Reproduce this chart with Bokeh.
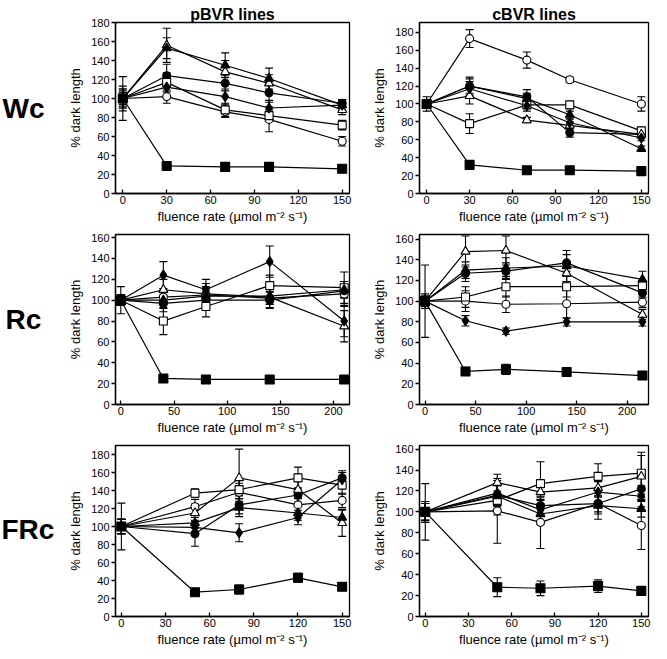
from bokeh.plotting import figure
from bokeh.models import Whisker, TeeHead, ColumnDataSource, FixedTicker, Range1d
from bokeh.layouts import column, row
from bokeh.core.properties import value
from bokeh.embed import file_html
from bokeh.resources import INLINE

# ---------------- data ----------------
col_titles = ["pBVR lines", "cBVR lines"]
row_titles = ["Wc", "Rc", "FRc"]
y_label = "% dark length"
x_label = "fluence rate (\u00b5mol m\u207b\u00b2 s\u207b\u00b9)"

ticks_150 = [0, 30, 60, 90, 120, 150]
ticks_200 = [0, 50, 100, 150, 200]
ticks_y180 = [0, 20, 40, 60, 80, 100, 120, 140, 160, 180]
ticks_y160 = [0, 20, 40, 60, 80, 100, 120, 140, 160]

# Wc, pBVR lines
wcp_x = [0, 30, 70, 100, 150]
wcp_ocirc = [100, 102, 86, 78, 55]
wcp_ocirc_err = [23, 7, 6, 13, 5]
wcp_fcirc = [100, 124, 116, 106, 95]
wcp_fcirc_err = [13, 12, 8, 10, 4]
wcp_osq = [100, 117, 88, 82, 72]
wcp_osq_err = [10, 10, 7, 6, 5]
wcp_fsq = [100, 29, 28, 28, 26]
wcp_fsq_err = [6, 3, 3, 2, 3]
wcp_otri = [100, 156, 128, 116, 88]
wcp_otri_err = [8, 18, 12, 9, 5]
wcp_ftri = [100, 153, 135, 121, 93]
wcp_ftri_err = [6, 11, 13, 11, 6]
wcp_fdia = [100, 112, 102, 90, 93]
wcp_fdia_err = [10, 10, 8, 8, 5]

# Wc, cBVR lines
wcc_x = [0, 30, 70, 100, 150]
wcc_ocirc = [100, 173, 149, 127, 100]
wcc_ocirc_err = [3, 10, 9, 3, 8]
wcc_fcirc = [100, 120, 108, 68, 66]
wcc_fcirc_err = [5, 10, 8, 5, 4]
wcc_osq = [100, 78, 99, 99, 70]
wcc_osq_err = [3, 11, 4, 4, 4]
wcc_fsq = [100, 32, 26, 26, 25]
wcc_fsq_err = [8, 4, 2, 2, 2]
wcc_otri = [100, 109, 82, 76, 66]
wcc_otri_err = [3, 9, 3, 4, 4]
wcc_ftri = [100, 120, 106, 88, 50]
wcc_ftri_err = [3, 8, 6, 4, 3]
wcc_fdia = [100, 117, 98, 79, 62]
wcc_fdia_err = [3, 8, 6, 4, 3]

# Rc, pBVR lines
rcp_x = [0, 40, 80, 140, 210]
rcp_ocirc = [100, 103, 105, 102, 106]
rcp_ocirc_err = [5, 8, 8, 6, 12]
rcp_fcirc = [100, 97, 100, 100, 109]
rcp_fcirc_err = [5, 8, 8, 8, 6]
rcp_osq = [100, 80, 94, 114, 112]
rcp_osq_err = [5, 13, 10, 10, 15]
rcp_fsq = [100, 25, 24, 24, 24]
rcp_fsq_err = [13, 2, 2, 2, 2]
rcp_otri = [100, 110, 106, 103, 75]
rcp_otri_err = [5, 10, 10, 10, 15]
rcp_ftri = [100, 100, 104, 104, 110]
rcp_ftri_err = [5, 8, 8, 8, 8]
rcp_fdia = [100, 124, 110, 137, 80]
rcp_fdia_err = [5, 13, 10, 15, 15]

# Rc, cBVR lines
rcc_x = [0, 40, 80, 140, 215]
rcc_ocirc = [100, 100, 97, 97.5, 99]
rcc_ocirc_err = [35, 10, 8, 14, 5]
rcc_fcirc = [100, 127, 129, 137, 108]
rcc_fcirc_err = [5, 8, 8, 8, 5]
rcc_osq = [100, 104, 114, 114, 115]
rcc_osq_err = [5, 10, 10, 10, 5]
rcc_fsq = [100, 32, 34, 31.5, 28]
rcc_fsq_err = [7, 4, 5, 3, 3]
rcc_otri = [100, 148, 149, 127, 87]
rcc_otri_err = [3, 15, 14, 8, 5]
rcc_ftri = [100, 130, 132, 134, 121]
rcc_ftri_err = [3, 8, 10, 15, 8]
rcc_fdia = [100, 81, 71, 80, 80]
rcc_fdia_err = [3, 5, 3, 4, 4]

# FRc, pBVR lines
frp_x = [0, 50, 80, 120, 150]
frp_ocirc = [100, 122, 138, 124, 129]
frp_ocirc_err = [26, 8, 10, 10, 8]
frp_fcirc = [100, 92, 124, 135, 154]
frp_fcirc_err = [8, 14, 10, 8, 8]
frp_osq = [100, 137, 141, 154, 146]
frp_osq_err = [8, 5, 10, 12, 10]
frp_fsq = [100, 27, 30, 43, 33]
frp_fsq_err = [8, 4, 5, 5, 4]
frp_otri = [100, 115, 154, 141, 104]
frp_otri_err = [8, 10, 32, 10, 15]
frp_ftri = [100, 104, 121, 115, 110]
frp_ftri_err = [8, 6, 10, 8, 8]
frp_fdia = [100, 99, 93, 110, 152]
frp_fdia_err = [8, 8, 10, 8, 8]

# FRc, cBVR lines
frc_x = [0, 50, 80, 120, 150]
frc_ocirc = [100, 101, 90, 108, 87]
frc_ocirc_err = [27, 31, 25, 15, 23]
frc_fcirc = [100, 116, 106, 108, 122]
frc_fcirc_err = [8, 10, 8, 8, 10]
frc_osq = [100, 111, 127, 134, 137]
frc_osq_err = [10, 14, 21, 12, 20]
frc_fsq = [100, 28, 27, 29, 24.5]
frc_fsq_err = [10, 9, 7, 6, 3]
frc_otri = [100, 128, 119, 123, 134]
frc_otri_err = [8, 8, 8, 8, 20]
frc_ftri = [100, 115, 98, 106, 103]
frc_ftri_err = [8, 10, 10, 8, 8]
frc_fdia = [100, 118, 102, 119, 115]
frc_fdia_err = [8, 12, 10, 10, 10]

# ---------------- styling ----------------
FONT = "Liberation Sans"
MARKERS = {
    "ocirc": ("circle", "white", 8),
    "fcirc": ("circle", "black", 8),
    "osq": ("square", "white", 8),
    "fsq": ("square", "black", 9),
    "otri": ("triangle", "white", 9),
    "ftri": ("triangle", "black", 9),
    "fdia": ("diamond", "black", 10),
}
ORDER = ["ocirc", "fcirc", "osq", "fsq", "otri", "ftri", "fdia"]

TOTAL_H = 643
SIDE_W = 55


def panel_series(prefix, x):
    g = globals()
    return x, [(k, g[f"{prefix}_{k}"], g[f"{prefix}_{k}_err"]) for k in ORDER]


def make_panel(prefix, x, xr, yr, xticks, yticks, left_col, b_top, f_h, b_bot,
               col_title=None):
    if left_col:
        bl, fw, br = 60, 234, 16
    else:
        bl, fw, br = 54, 229, 3
    p = figure(frame_width=fw, frame_height=f_h, min_border_left=bl,
               min_border_right=br, min_border_top=b_top, min_border_bottom=b_bot,
               x_range=Range1d(*xr), y_range=Range1d(*yr),
               output_backend="svg", toolbar_location=None,
               background_fill_color="white", border_fill_color="white")
    p.grid.visible = False
    p.outline_line_color = "black"
    p.outline_line_width = 1.3
    for ax in (p.xaxis[0], p.yaxis[0]):
        ax.axis_line_color = "black"
        ax.axis_line_width = 1.3
        ax.major_tick_line_color = "black"
        ax.major_tick_line_width = 1.3
        ax.minor_tick_line_color = None
        ax.major_label_text_font = FONT
        ax.major_label_text_font_size = "11px"
        ax.major_label_text_color = "black"
        ax.axis_label_text_font = FONT
        ax.axis_label_text_font_size = "13px"
        ax.axis_label_text_font_style = "normal"
        ax.axis_label_text_color = "black"
    p.xaxis.ticker = FixedTicker(ticks=xticks)
    p.yaxis.ticker = FixedTicker(ticks=yticks)
    p.xaxis.major_tick_in = 4
    p.xaxis.major_tick_out = 0
    p.yaxis.major_tick_in = 0
    p.yaxis.major_tick_out = 4
    p.xaxis.major_label_standoff = 2
    p.yaxis.major_label_standoff = 2
    p.xaxis.axis_label_standoff = 2
    p.yaxis.axis_label_standoff = 5
    p.xaxis.axis_label = x_label
    p.yaxis.axis_label = y_label

    if col_title:
        p.title.text = col_title
        p.title.align = "center"
        p.title.text_font = FONT
        p.title.text_font_size = "16px"
        p.title.text_font_style = "bold"
        p.title.text_color = "black"
        p.title.standoff = 0

    xs, series = panel_series(prefix, x)
    for key, ys, errs in series:
        p.line(xs, ys, line_color="black", line_width=1.2)
    for key, ys, errs in series:
        src = ColumnDataSource(dict(x=xs, upper=[a + b for a, b in zip(ys, errs)],
                                    lower=[a - b for a, b in zip(ys, errs)]))
        w = Whisker(source=src, base="x", upper="upper", lower="lower",
                    dimension="height", line_color="black", line_width=1.1,
                    upper_head=TeeHead(size=8, line_color="black", line_width=1.1),
                    lower_head=TeeHead(size=8, line_color="black", line_width=1.1),
                    level="underlay")
        p.add_layout(w)
    for key, ys, errs in series:
        marker, fill, size = MARKERS[key]
        p.scatter(xs, ys, marker=marker, size=size, fill_color=fill,
                  line_color="black", line_width=1.1)
    return p


p1 = make_panel("wcp", wcp_x, (-5, 155), (0, 180), ticks_150, ticks_y180, True, 22, 171, 31,
                col_title=col_titles[0])
p2 = make_panel("wcc", wcc_x, (-5, 155), (0, 191), ticks_150, ticks_y180, False, 22, 171, 31,
                col_title=col_titles[1])
p3 = make_panel("rcp", rcp_x, (-5, 215), (0, 163), ticks_200, ticks_y160, True, 8, 170, 31)
p4 = make_panel("rcc", rcc_x, (-5.5, 221), (0, 164.5), ticks_200, ticks_y160, False, 8, 170, 31)
p5 = make_panel("frp", frp_x, (-4, 155), (0, 190), ticks_150, ticks_y180, True, 8, 171, 31)
p6 = make_panel("frc", frc_x, (-4, 155), (0, 163.5), ticks_150, ticks_y160, False, 8, 171, 31)

# side strip holding the row labels (1 data unit = 1 screen pixel)
side = figure(width=SIDE_W, height=TOTAL_H, x_range=Range1d(0, SIDE_W),
              y_range=Range1d(0, TOTAL_H), min_border=0, output_backend="svg",
              toolbar_location=None, x_axis_location=None, y_axis_location=None,
              outline_line_color=None, background_fill_color="white",
              border_fill_color="white")
side.grid.visible = False
row_label_x = [2, 5, 1]
row_label_y = [TOTAL_H - 108, TOTAL_H - 319, TOTAL_H - 529]
side.text(x=row_label_x, y=row_label_y, text=row_titles, text_font=value(FONT),
          text_font_size="28px", text_font_style="bold", text_color="black",
          text_align="left", text_baseline="middle")

layout = row(side, column(row(p1, p2), row(p3, p4), row(p5, p6)))

with open("out.html", "w") as f:
    f.write(file_html(layout, INLINE))
